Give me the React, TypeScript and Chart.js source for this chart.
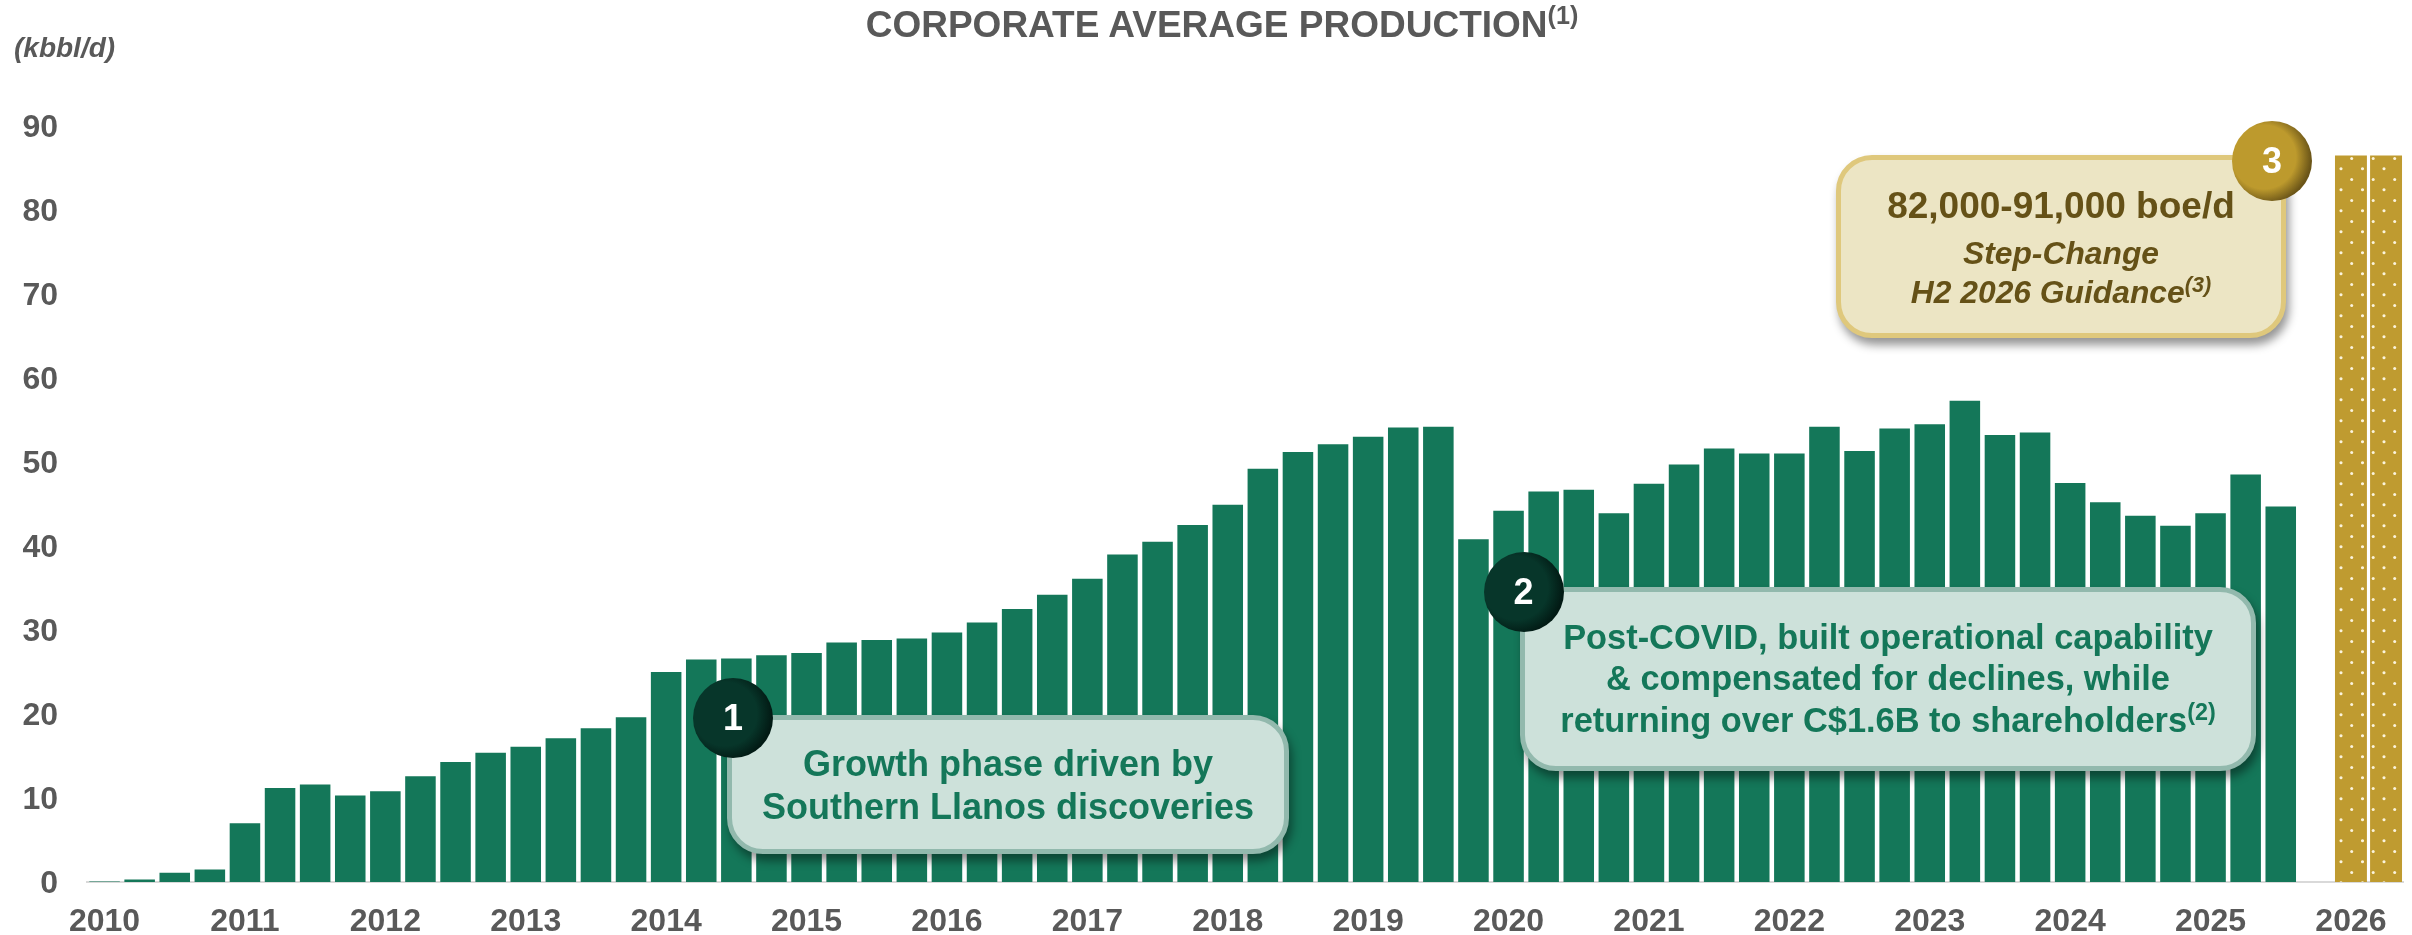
import React, { useEffect, useRef } from "react";
import { Chart, registerables } from "chart.js";

Chart.register(...registerables);

const years = [2010, 2011, 2012, 2013, 2014, 2015, 2016, 2017, 2018, 2019, 2020, 2021, 2022, 2023, 2024, 2025, 2026];
const quarters = years.flatMap((y) => ["Q1", "Q2", "Q3", "Q4"].map((q) => `${y} ${q}`)).slice(0, 66);

const production: (number | null)[] = [
  0.05, 0.3, 1.1, 1.5,
  7.0, 11.2, 11.6, 10.3,
  10.8, 12.6, 14.3, 15.4,
  16.1, 17.1, 18.3, 19.6,
  25.0, 26.5, 26.6, 27.0,
  27.25, 28.5, 28.8, 29.0,
  29.7, 30.9, 32.5, 34.2,
  36.1, 39.0, 40.5, 42.5,
  44.9, 49.2, 51.2, 52.1,
  53.0, 54.1, 54.2, 40.8,
  44.2, 46.5, 46.7, 43.9,
  47.4, 49.7, 51.6, 51.0,
  51.0, 54.2, 51.3, 54.0,
  54.5, 57.3, 53.2, 53.5,
  47.5, 45.2, 43.6, 42.4,
  43.9, 48.5, 44.7, null,
  null, null,
];
const guidanceBlanks = new Array(64).fill(null);
const guidance: (number | null)[] = [...guidanceBlanks, 86.5, 86.5];

const GREEN = "#147759";
const GREY = "#595959";
const FONT = '"Liberation Sans", Arial, sans-serif';

function dotPattern(ctx: CanvasRenderingContext2D) {
  const tile = document.createElement("canvas");
  tile.width = 43;
  tile.height = 21;
  const t = tile.getContext("2d")!;
  t.fillStyle = "#bf9b30";
  t.fillRect(0, 0, 43, 21);
  t.fillStyle = "#fbf4dd";
  const dots = [[29.7, 11.4], [8.2, 11.4], [19, 0.7], [40.5, 0.7], [19, 21.7], [40.5, 21.7]];
  for (const [x, y] of dots) {
    t.beginPath();
    t.arc(x, y, 1.5, 0, Math.PI * 2);
    t.fill();
  }
  return ctx.createPattern(tile, "repeat")!;
}

type BoxProps = { left: number; top: number; width: number; height: number; bg: string; border: string; children: React.ReactNode };
function Box({ left, top, width, height, bg, border, children }: BoxProps) {
  return (
    <div
      style={{
        position: "absolute", left, top, width, height, boxSizing: "border-box",
        background: bg, border: `5px solid ${border}`, borderRadius: 36,
        boxShadow: "3px 7px 10px rgba(0,0,0,0.42)", display: "flex", flexDirection: "column",
        alignItems: "center", justifyContent: "center", textAlign: "center", fontFamily: FONT, fontWeight: 700,
      }}
    >
      {children}
    </div>
  );
}

function Badge({ cx, cy, label, inner, outer }: { cx: number; cy: number; label: string; inner: string; outer: string }) {
  return (
    <div
      style={{
        position: "absolute", left: cx - 40, top: cy - 40, width: 80, height: 80, borderRadius: "50%",
        background: `radial-gradient(circle 47px at 40% 45%, ${inner} 68%, ${outer} 100%)`,
        color: "#fff", fontFamily: FONT, fontWeight: 700, fontSize: 36, lineHeight: "80px", textAlign: "center",
      }}
    >
      {label}
    </div>
  );
}

const sup: React.CSSProperties = { fontSize: "0.68em", verticalAlign: "0.5em", lineHeight: 0, fontWeight: 700 };

const shiftYLabels = {
  id: "shiftYLabels",
  beforeDraw(chart: any) {
    const s = chart.scales.y;
    s._labelItems = null;
    s.getLabelItems().forEach((item: any) => {
      item.options.translation = [item.options.translation[0], item.options.translation[1] + 2];
    });
  },
};

export default function App() {
  const ref = useRef<HTMLCanvasElement>(null);
  useEffect(() => {
    const canvas = ref.current!;
    const ctx = canvas.getContext("2d")!;
    const chart = new Chart(canvas, {
      type: "bar",
      plugins: [shiftYLabels],
      data: {
        labels: quarters,
        datasets: [
          { label: "Corporate average production", data: production, backgroundColor: GREEN, barPercentage: 0.87, categoryPercentage: 1 },
          { label: "H2 2026 guidance", data: guidance, backgroundColor: dotPattern(ctx), barPercentage: 0.91, categoryPercentage: 1 },
        ],
      },
      options: {
        responsive: false,
        animation: false,
        layout: { padding: { top: 126, right: 8.4, left: 0, bottom: 0 } },
        plugins: { legend: { display: false }, tooltip: { enabled: false }, title: { display: false } },
        scales: {
          x: {
            stacked: true,
            grid: { display: false, drawTicks: false },
            border: { color: "#d9d9d9", width: 2 },
            afterFit: (s: any) => { s.height = 53; },
            ticks: {
              autoSkip: false, maxRotation: 0, minRotation: 0, padding: 21,
              color: GREY, font: { family: FONT, weight: "bold", size: 32 },
              callback(this: any, v: any) {
                const l = String(this.getLabelForValue(v));
                return l.endsWith("Q1") ? l.slice(0, 4) : "";
              },
            },
          },
          y: {
            stacked: true, min: 0, max: 90,
            grid: { display: false, drawTicks: false },
            border: { display: false },
            afterFit: (s: any) => { s.width = 87; },
            ticks: { stepSize: 10, padding: 29, color: GREY, font: { family: FONT, weight: "bold", size: 32 } },
          },
        },
      },
    });
    return () => chart.destroy();
  }, []);

  return (
    <div style={{ position: "absolute", left: 0, top: 0, width: 2412, height: 935, overflow: "hidden", background: "#fff" }}>
      <canvas ref={ref} width={2412} height={935} style={{ position: "absolute", left: 0, top: 0, width: 2412, height: 935 }} />
      <div style={{ position: "absolute", left: 0, top: 2, width: 2444, textAlign: "center", fontFamily: FONT, fontWeight: 700, fontSize: 37, lineHeight: "46px", color: GREY, whiteSpace: "nowrap" }}>
        CORPORATE AVERAGE PRODUCTION<span style={sup}>(1)</span>
      </div>
      <div style={{ position: "absolute", left: 14, top: 32, fontFamily: FONT, fontWeight: 700, fontStyle: "italic", fontSize: 28, lineHeight: "32px", color: GREY }}>(kbbl/d)</div>

      <Box left={727} top={715} width={562} height={139} bg="#cde1da" border="#92b9ad">
        <div style={{ color: GREEN, fontSize: 36, lineHeight: "43px", whiteSpace: "nowrap" }}>
          Growth phase driven by<br />Southern Llanos discoveries
        </div>
      </Box>
      <Badge cx={733} cy={718} label="1" inner="#07362a" outer="#021a14" />

      <Box left={1520} top={587} width={736} height={184} bg="#cde1da" border="#92b9ad">
        <div style={{ color: GREEN, fontSize: 34.4, lineHeight: "41.5px", whiteSpace: "nowrap" }}>
          Post-COVID, built operational capability<br />&amp; compensated for declines, while<br />returning over C$1.6B to shareholders<span style={sup}>(2)</span>
        </div>
      </Box>
      <Badge cx={1523.5} cy={591.5} label="2" inner="#07362a" outer="#021a14" />

      <Box left={1836} top={155} width={450} height={183} bg="#ece5c4" border="#dfc87c">
        <div style={{ color: "#655117", whiteSpace: "nowrap", marginTop: -4 }}>
          <div style={{ fontSize: 37, lineHeight: "56px" }}>82,000-91,000 boe/d</div>
          <div style={{ fontSize: 31.8, lineHeight: "38.5px", fontStyle: "italic" }}>Step-Change<br />H2 2026 Guidance<span style={sup}>(3)</span></div>
        </div>
      </Box>
      <Badge cx={2272} cy={161} label="3" inner="#bd9a2d" outer="#6b5518" />
    </div>
  );
}
